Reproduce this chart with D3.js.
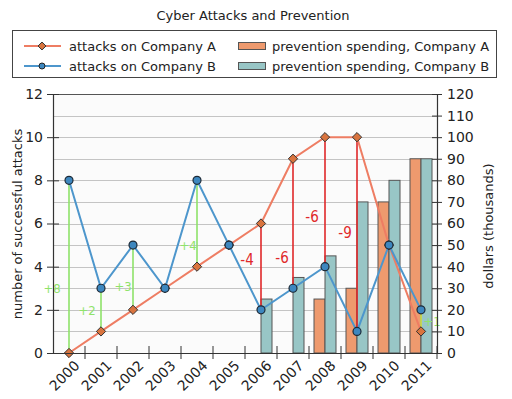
<!DOCTYPE html>
<html>
<head>
<meta charset="utf-8">
<script src="https://cdn.jsdelivr.net/npm/d3@7"></script>
<style>
  body { margin: 0; background: #fff; }
  text { font-family: "DejaVu Sans", Verdana, sans-serif; fill: #222; }
</style>
</head>
<body>
<div id="chart"></div>
<script>
// data
var years = ["2000", "2001", "2002", "2003", "2004", "2005", "2006", "2007", "2008", "2009", "2010", "2011"]
var attacksA = [0, 1, 2, 3, 4, 5, 6, 9, 10, 10, 5, 1]
var attacksB = [8, 3, 5, 3, 8, 5, 2, 3, 4, 1, 5, 2]
var spendingA = [null, null, null, null, null, null, null, null, 25, 30, 70, 90]
var spendingB = [null, null, null, null, null, null, 25, 35, 45, 70, 80, 90]
var leftTicks = [0, 2, 4, 6, 8, 10, 12]
var rightTicks = [0, 10, 20, 30, 40, 50, 60, 70, 80, 90, 100, 110, 120]
// hand-drawn notes: year, label
var greenNotes = [["2000", "+8"], ["2001", "+2"], ["2002", "+3"], ["2004", "+4"], ["2011", "+1"]]
var redNotes = [["2006", "-4"], ["2007", "-6"], ["2008", "-6"], ["2009", "-9"]]

width = 512
height = 399
var margin = { top: 94, right: 75, bottom: 46, left: 53 }

var svg = d3.select("#chart").append("svg")
    .attr("width", width).attr("height", height)

var x = d3.scaleBand().domain(years).range([margin.left, width - margin.right])
var bw = x.bandwidth()
var y = d3.scaleLinear().domain([0, 12]).range([height - margin.bottom, margin.top])
var y2 = d3.scaleLinear().domain([0, 120]).range([height - margin.bottom, margin.top])

// title
svg.append("text").attr("x", 253).attr("y", 20).attr("text-anchor", "middle")
    .style("font-size", "13px").text("Cyber Attacks and Prevention")

// legend
var lg = svg.append("g")
lg.append("rect").attr("x", 12.5).attr("y", 30.5).attr("width", 484).attr("height", 47)
    .attr("fill", "#fff").attr("stroke", "#444")
var legendRows = [
    { label: "attacks on Company A", color: "#ee7d63", shape: "diamond", fill: "#d9743e" },
    { label: "attacks on Company B", color: "#4d96cc", shape: "circle", fill: "#3d87bf" }
]
legendRows.forEach(function (r, i) {
    var yy = 46 + i * 20
    lg.append("line").attr("x1", 24).attr("x2", 61).attr("y1", yy).attr("y2", yy)
        .attr("stroke", r.color).attr("stroke-width", 2)
    if (r.shape == "diamond")
        lg.append("path").attr("d", d3.symbol(d3.symbolDiamond2, 40)()).attr("transform", "translate(42," + yy + ")")
            .attr("fill", r.fill).attr("stroke", "#333")
    else
        lg.append("circle").attr("cx", 42).attr("cy", yy).attr("r", 3)
            .attr("fill", r.fill).attr("stroke", "#222")
    lg.append("text").attr("x", 69).attr("y", yy + 5).style("font-size", "13px").text(r.label)
})
var legendBars = [
    { label: "prevention spending, Company A", fill: "#ee9a6e" },
    { label: "prevention spending, Company B", fill: "#98c6c6" }
]
legendBars.forEach(function (r, i) {
    var yy = 46 + i * 20
    lg.append("rect").attr("x", 238.5).attr("y", yy - 3.5).attr("width", 27).attr("height", 7)
        .attr("fill", r.fill).attr("stroke", "#555")
    lg.append("text").attr("x", 272).attr("y", yy + 5).style("font-size", "13px").text(r.label)
})

// grid
var g = svg.append("g")
g.append("rect").attr("x", margin.left).attr("y", margin.top)
    .attr("width", width - margin.left - margin.right).attr("height", height - margin.top - margin.bottom)
    .attr("fill", "#fbfbfb")
g.selectAll("gridline").data(d3.range(1, 12)).enter().append("line")
    .attr("x1", margin.left).attr("x2", width - margin.right)
    .attr("y1", function (d) { return Math.round(y(d)) + 0.5 })
    .attr("y2", function (d) { return Math.round(y(d)) + 0.5 })
    .attr("stroke", "#c4c4c4").attr("stroke-width", 1)
g.append("line").attr("x1", margin.left).attr("x2", width - margin.right)
    .attr("y1", margin.top + 0.5).attr("y2", margin.top + 0.5).attr("stroke", "#555")

// bars
var barW = 11
years.forEach(function (yr, i) {
    var cx = x(yr) + bw / 2
    if (spendingA[i] != null)
        g.append("rect").attr("x", cx - barW).attr("y", y2(spendingA[i]))
            .attr("width", barW).attr("height", y2(0) - y2(spendingA[i]))
            .attr("fill", "#ee9a6e").attr("stroke", "#555")
    if (spendingB[i] != null)
        g.append("rect").attr("x", cx).attr("y", y2(spendingB[i]))
            .attr("width", barW).attr("height", y2(0) - y2(spendingB[i]))
            .attr("fill", "#98c6c6").attr("stroke", "#555")
})

// hand-drawn difference lines
var ann = svg.append("g")
function noteLine(yr, color) {
    var i = years.indexOf(yr)
    var cx = x(yr) + bw / 2
    ann.append("line").attr("x1", cx).attr("x2", cx)
        .attr("y1", y(attacksA[i])).attr("y2", y(attacksB[i]))
        .attr("stroke", color).attr("stroke-width", 1.6)
}
greenNotes.forEach(function (n) { noteLine(n[0], n[0] == "2011" ? "#d6e84a" : "#8fe36a") })
redNotes.forEach(function (n) { noteLine(n[0], "#e0282a") })

// lines
var line = d3.line()
    .x(function (d, i) { return x(years[i]) + bw / 2 })
    .y(function (d) { return y(d) })
svg.append("path").datum(attacksA).attr("d", line).attr("fill", "none")
    .attr("stroke", "#ee7d63").attr("stroke-width", 2)
svg.append("path").datum(attacksB).attr("d", line).attr("fill", "none")
    .attr("stroke", "#4d96cc").attr("stroke-width", 2)

svg.selectAll("markA").data(attacksA).enter().append("path")
    .attr("d", d3.symbol(d3.symbolDiamond2, 55)())
    .attr("transform", function (d, i) { return "translate(" + (x(years[i]) + bw / 2) + "," + y(d) + ")" })
    .attr("fill", "#d9743e").attr("stroke", "#333").attr("stroke-width", 1)
svg.selectAll("markB").data(attacksB).enter().append("circle")
    .attr("cx", function (d, i) { return x(years[i]) + bw / 2 })
    .attr("cy", function (d) { return y(d) })
    .attr("r", 4).attr("fill", "#3d87bf").attr("stroke", "#1e2a36").attr("stroke-width", 1.2)

// note labels, offset from the middle of each difference line
var noteOffsets = {
    "2000": [-17, 21], "2001": [-14, 0], "2002": [-10, 9], "2004": [-9, 21], "2011": [11, 0],
    "2006": [-14, -7], "2007": [-11, 34], "2008": [-13, 15], "2009": [-12, -1]
}
greenNotes.forEach(function (n) {
    var i = years.indexOf(n[0])
    var o = noteOffsets[n[0]]
    ann.append("text").attr("x", x(n[0]) + bw / 2 + o[0])
        .attr("y", y((attacksA[i] + attacksB[i]) / 2) + o[1] + 5)
        .attr("text-anchor", "middle").style("font-size", "13px").style("fill", "#8fe36a")
        .style("font-family", "'DejaVu Sans Condensed', sans-serif").text(n[1])
})
redNotes.forEach(function (n) {
    var i = years.indexOf(n[0])
    var o = noteOffsets[n[0]]
    ann.append("text").attr("x", x(n[0]) + bw / 2 + o[0])
        .attr("y", y((attacksA[i] + attacksB[i]) / 2) + o[1] + 5)
        .attr("text-anchor", "middle").style("font-size", "15px").style("fill", "#e0282a")
        .style("font-family", "'DejaVu Sans Condensed', sans-serif").text(n[1])
})

// axes
var leftAxis = svg.append("g").attr("transform", "translate(" + margin.left + ",0)")
    .call(d3.axisLeft(y).tickValues(leftTicks).tickSizeInner(6).tickSizeOuter(0).tickPadding(4))
leftAxis.selectAll(".tick line").attr("x2", 6).attr("x1", -6)
var rightAxis = svg.append("g").attr("transform", "translate(" + (width - margin.right) + ",0)")
    .call(d3.axisRight(y2).tickValues(rightTicks).tickSizeOuter(0).tickPadding(4))
rightAxis.selectAll(".tick line").attr("x1", -5).attr("x2", 5)
var bottomAxis = svg.append("g").attr("transform", "translate(0," + (height - margin.bottom) + ")")
    .call(d3.axisBottom(x).tickSize(0).tickPadding(0))
bottomAxis.selectAll(".tick text")
    .attr("text-anchor", "end").attr("dy", "0.35em")
    .attr("transform", "translate(8,10) rotate(-45)")
bottomAxis.selectAll(".tick").append("line")
    .attr("x1", bw / 2).attr("x2", bw / 2).attr("y1", -7).attr("y2", 6)
    .attr("stroke", "#222")

;[leftAxis, rightAxis, bottomAxis].forEach(function (a) {
    a.select(".domain").attr("stroke", "#333").attr("stroke-width", 1.2)
    a.selectAll(".tick line").attr("stroke", "#333")
    a.selectAll("text").style("font-size", "14px").style("font-family", "'DejaVu Sans', sans-serif").attr("fill", "#222")
})

// axis titles
svg.append("text").attr("transform", "translate(22," + (margin.top + 130) + ") rotate(-90)")
    .attr("text-anchor", "middle").style("font-size", "13px").text("number of successful attacks")
svg.append("text").attr("transform", "translate(493," + (margin.top + 132) + ") rotate(-90)")
    .attr("text-anchor", "middle").style("font-size", "13px").text("dollars (thousands)")
</script>
</body>
</html>
